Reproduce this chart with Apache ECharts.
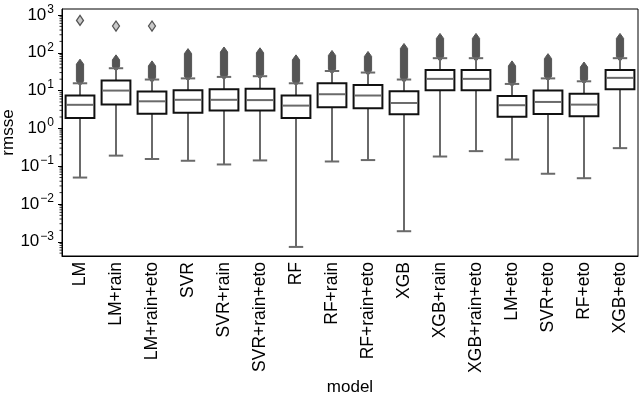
<!DOCTYPE html>
<html>
<head>
<meta charset="utf-8">
<script src="https://cdn.jsdelivr.net/npm/echarts@6/dist/echarts.min.js"></script>
<style>
  html, body { margin: 0; padding: 0; background: #fff; }
  #chart { width: 640px; height: 394px; }
</style>
</head>
<body>
<div id="chart"></div>
<script>
// model names along the x axis
const categories = ['LM', 'LM+rain', 'LM+rain+eto', 'SVR', 'SVR+rain', 'SVR+rain+eto',
  'RF', 'RF+rain', 'RF+rain+eto', 'XGB', 'XGB+rain', 'XGB+rain+eto',
  'LM+eto', 'SVR+eto', 'RF+eto', 'XGB+eto']

// box statistics (rmsse, log scale)
const whiskerLow = [0.05, 0.19, 0.155, 0.139, 0.111, 0.142, 0.00073, 0.133, 0.145, 0.0019, 0.18, 0.25, 0.15, 0.063, 0.048, 0.3]
const q1 = [1.88, 4.3, 2.45, 2.6, 2.95, 2.95, 1.88, 3.6, 3.4, 2.35, 10.2, 10.2, 2.04, 2.4, 2.08, 10.8]
const median = [4.2, 10, 5.2, 5.7, 5.7, 5.6, 4.0, 8.0, 7.4, 4.7, 20.4, 20.4, 4.1, 5.0, 4.25, 21.7]
const q3 = [7.4, 18.4, 9.4, 10.2, 10.8, 11.1, 7.4, 15.6, 14.1, 9.6, 35, 35, 7.2, 10, 8.2, 35]
const whiskerHigh = [15.6, 39, 19.6, 21, 23, 24, 15.6, 33, 30, 19.6, 72, 72, 15, 21, 17.6, 72]

// dense runs of outliers above the upper whisker (from / to)
const outlierLow = [18, 44, 22, 24, 26, 27, 18, 37, 34, 22, 80, 80, 17, 24, 20, 80]
const outlierHigh = [50, 65, 45, 95, 105, 100, 65, 85, 80, 130, 240, 240, 45, 70, 42, 240]

// single far outliers
const farOutliers = [[0, 720], [1, 510], [2, 510]]

// y axis range
const yMin = 0.00042
const yMax = 1440

const minorTicks = []
for (let k = -4; k <= 3; k++) {
  for (let m = 2; m <= 9; m++) {
    const v = m * Math.pow(10, k)
    if (v > yMin && v < yMax) minorTicks.push(v)
  }
}

const FONT = 'Liberation Sans, Arial, sans-serif'
const BOX_EDGE = '#111'
const LINE_GRAY = '#6a6a6a'
const FLIER = '#555'

const boxData = categories.map((c, i) => [i, whiskerLow[i], q1[i], median[i], q3[i], whiskerHigh[i]])
const flierData = categories.map((c, i) => [i, outlierLow[i], outlierHigh[i]])

function renderBox(params, api) {
  const i = api.value(0)
  const band = api.size([1, 0])[0]
  const w = band * 0.8
  const cap = band * 0.4
  const pLo = api.coord([i, api.value(1)])
  const pQ1 = api.coord([i, api.value(2)])
  const pMed = api.coord([i, api.value(3)])
  const pQ3 = api.coord([i, api.value(4)])
  const pHi = api.coord([i, api.value(5)])
  const x = pMed[0]
  const lineStyle = { stroke: LINE_GRAY, lineWidth: 2 }
  return {
    type: 'group',
    children: [
      { type: 'line', shape: { x1: x, y1: pQ1[1], x2: x, y2: pLo[1] }, style: lineStyle },
      { type: 'line', shape: { x1: x, y1: pQ3[1], x2: x, y2: pHi[1] }, style: lineStyle },
      { type: 'line', shape: { x1: x - cap / 2, y1: pLo[1], x2: x + cap / 2, y2: pLo[1] }, style: lineStyle },
      { type: 'line', shape: { x1: x - cap / 2, y1: pHi[1], x2: x + cap / 2, y2: pHi[1] }, style: lineStyle },
      {
        type: 'rect',
        shape: { x: x - w / 2, y: pQ3[1], width: w, height: pQ1[1] - pQ3[1] },
        style: { fill: '#fff', stroke: BOX_EDGE, lineWidth: 2 }
      },
      { type: 'line', shape: { x1: x - w / 2 + 1, y1: pMed[1], x2: x + w / 2 - 1, y2: pMed[1] }, style: lineStyle }
    ]
  }
}

function renderFliers(params, api) {
  const i = api.value(0)
  const pLo = api.coord([i, api.value(1)])
  const pHi = api.coord([i, api.value(2)])
  const x = pLo[0]
  const hw = 3.6
  const hh = 5
  return {
    type: 'polygon',
    shape: {
      points: [
        [x, pHi[1] - hh], [x + hw, pHi[1]], [x + hw, pLo[1]],
        [x, pLo[1] + hh], [x - hw, pLo[1]], [x - hw, pHi[1]]
      ]
    },
    style: { fill: FLIER, stroke: FLIER, lineWidth: 1 }
  }
}

function renderMinorTicks(params, api) {
  const p = api.coord([0, api.value(0)])
  const x0 = params.coordSys.x
  return {
    type: 'line',
    shape: { x1: x0 - 2.5, y1: p[1], x2: x0, y2: p[1] },
    style: { stroke: '#000', lineWidth: 0.8 }
  }
}

const chart = echarts.init(document.getElementById('chart'), null, { renderer: 'canvas' })

chart.setOption({
  animation: false,
  textStyle: { fontFamily: FONT },
  grid: {
    left: 62, right: 2, top: 9, bottom: 138,
    outerBoundsMode: 'none',
    containLabel: false,
    show: true, borderColor: '#000', borderWidth: 1
  },
  xAxis: {
    type: 'category',
    data: categories,
    boundaryGap: true,
    name: 'model',
    nameLocation: 'middle',
    nameGap: 123,
    nameMoveOverlap: false,
    nameTextStyle: { fontSize: 17, color: '#000', fontFamily: FONT },
    axisLine: { lineStyle: { color: '#000', width: 1 } },
    axisTick: { alignWithLabel: true, length: 4, lineStyle: { color: '#000' } },
    axisLabel: { rotate: 90, fontSize: 17.5, color: '#000', margin: 6, interval: 0, fontFamily: FONT }
  },
  yAxis: {
    type: 'log',
    logBase: 10,
    min: yMin,
    max: yMax,
    name: 'rmsse',
    nameLocation: 'middle',
    nameGap: 45,
    nameMoveOverlap: false,
    nameRotate: 90,
    nameTextStyle: { fontSize: 17, color: '#000', fontFamily: FONT },
    splitLine: { show: false },
    axisLine: { show: true, lineStyle: { color: '#000', width: 1 } },
    axisTick: { show: true, length: 4, lineStyle: { color: '#000' } },
    axisLabel: {
      showMinLabel: false,
      showMaxLabel: false,
      margin: 8,
      color: '#000',
      formatter: function (v) {
        const e = Math.round(Math.log10(v))
        const s = e < 0 ? '\u2212' + (-e) : String(e)
        return '{b|10}{s|' + s + '}'
      },
      rich: {
        b: { fontSize: 17, fontFamily: FONT, color: '#000' },
        s: { fontSize: 12, fontFamily: FONT, color: '#000', padding: [0, 0, 11, 1] }
      }
    }
  },
  series: [
    {
      type: 'custom',
      renderItem: renderMinorTicks,
      data: minorTicks.map(v => [v]),
      encode: { y: 0 },
      clip: false,
      silent: true,
      z: 1
    },
    {
      type: 'custom',
      renderItem: renderFliers,
      data: flierData,
      encode: { x: 0, y: [1, 2] },
      silent: true,
      z: 2
    },
    {
      type: 'custom',
      renderItem: renderBox,
      data: boxData,
      encode: { x: 0, y: [1, 2, 3, 4, 5] },
      silent: true,
      z: 3
    },
    {
      type: 'scatter',
      data: farOutliers,
      symbol: 'diamond',
      symbolSize: [7, 10],
      itemStyle: { color: '#c9c9c9', borderColor: FLIER, borderWidth: 1.3, opacity: 1 },
      silent: true,
      z: 4
    }
  ]
})

window.addEventListener('resize', () => chart.resize())
</script>
</body>
</html>
